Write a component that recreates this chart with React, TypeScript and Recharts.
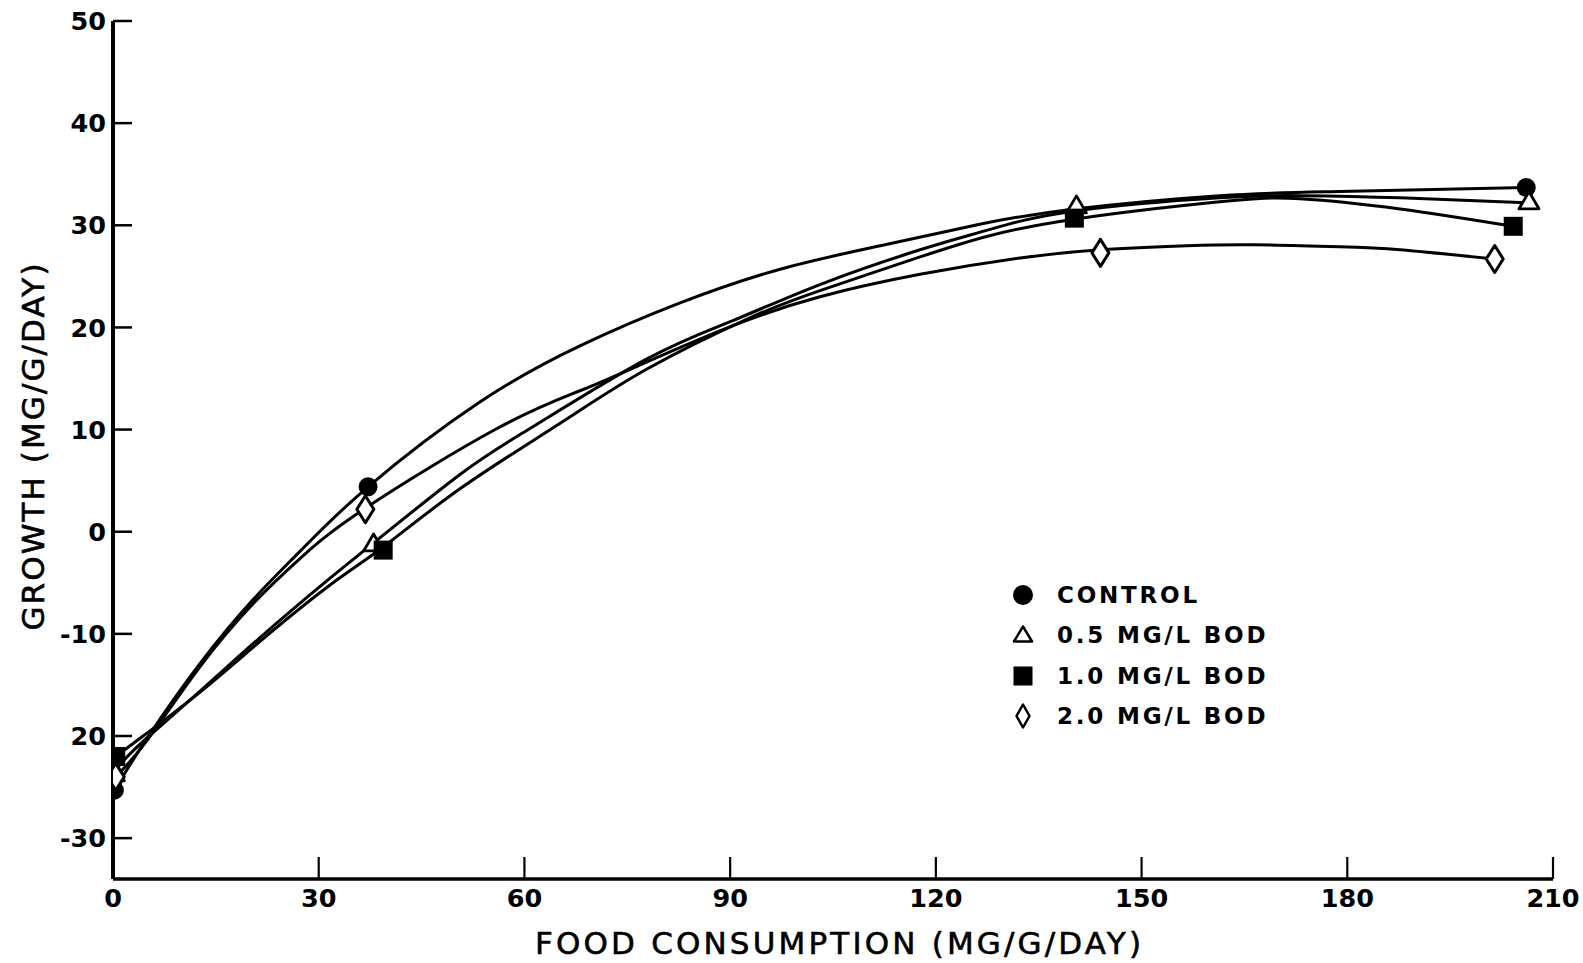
import React from "react";
import { ComposedChart, Line, Scatter, XAxis, YAxis } from "recharts";

const FONT = '"DejaVu Sans", "Liberation Sans", sans-serif';

const xTicks = [0, 30, 60, 90, 120, 150, 180, 210];
const xTickLabels = ["0", "30", "60", "90", "120", "150", "180", "210"];
const yTicks = [-30, -20, -10, 0, 10, 20, 30, 40, 50];
// the original print drops the minus sign on -20
const yTickLabels = ["-30", "20", "-10", "0", "10", "20", "30", "40", "50"];

// measured points [food consumption, growth]
const controlPoints = [[0.2, -25.3], [37.2, 4.4], [206.1, 33.7]];
const bod05Points = [[0.2, -23.7], [38.0, -1.2], [140.5, 31.9], [206.5, 32.3]];
const bod10Points = [[0.4, -22.0], [39.4, -1.8], [140.2, 30.7], [204.2, 29.9]];
const bod20Points = [[0.4, -24.0], [36.8, 2.2], [144.0, 27.3], [201.5, 26.7]];

// fitted curves
const controlCurve = [[0.2, -25.3], [5, -20.2], [12.7, -12.9], [20.5, -6.6], [27.3, -1.9], [37.2, 4.4], [53.5, 12.7], [68.1, 18.2], [82.7, 22.4], [97.3, 25.7], [111.9, 28.0], [126.4, 30.1], [140.3, 31.6], [161.4, 32.9], [178.9, 33.3], [206.1, 33.7]];
const bod05Curve = [[0.2, -23.7], [3, -21.4], [12.7, -15.6], [22.4, -9.8], [32.1, -4.3], [38.0, -1.1], [50.6, 5.6], [60.8, 10.1], [77.8, 16.9], [90.5, 20.7], [103.1, 24.2], [117.7, 27.6], [127.4, 29.5], [140.3, 31.4], [161.4, 32.7], [173.1, 32.9], [187.7, 32.7], [206.5, 32.2]];
const bod10Curve = [[0.4, -22.0], [4, -20.2], [12.7, -15.7], [22.4, -10.2], [32.1, -5.0], [39.4, -1.5], [50.6, 4.2], [64.7, 10.4], [77.8, 15.9], [92.4, 20.8], [103.1, 23.6], [117.7, 26.9], [127.4, 28.9], [140.2, 30.6], [161.4, 32.3], [173.1, 32.6], [187.7, 31.6], [204.2, 29.9]];
const bod20Curve = [[0.4, -24.0], [5, -20.4], [12.7, -13.2], [20.5, -7.0], [27.3, -2.6], [36.8, 2.3], [56.0, 10.1], [68.1, 13.8], [77.8, 16.6], [90.5, 20.2], [103.1, 23.0], [117.7, 25.2], [132.3, 26.8], [144.0, 27.6], [156.6, 28.0], [166.3, 28.1], [178.9, 27.9], [187.7, 27.6], [201.5, 26.7]];

const legendLabels = ["CONTROL", "0.5 MG/L BOD", "1.0 MG/L BOD", "2.0 MG/L BOD"];

const toRows = (pairs: number[][]) => pairs.map(([x, y]) => ({ x, y }));

function CircleMark({ cx, cy }: any) {
  return <circle cx={cx} cy={cy} r={9.5} fill="#000" />;
}

function TriangleMark({ cx, cy }: any) {
  return <polygon points={`${cx},${cy - 10} ${cx - 10},${cy + 7} ${cx + 10},${cy + 7}`} fill="#fff" stroke="#000" strokeWidth={2.8} strokeLinejoin="round" />;
}

function SquareMark({ cx, cy }: any) {
  return <rect x={cx - 9.5} y={cy - 9.5} width={19} height={19} fill="#000" />;
}

function DiamondMark({ cx, cy }: any) {
  return <polygon points={`${cx},${cy - 13.5} ${cx + 8.5},${cy} ${cx},${cy + 13.5} ${cx - 8.5},${cy}`} fill="#fff" stroke="#000" strokeWidth={3} strokeLinejoin="round" />;
}

function YTick({ x, y, payload }: any) {
  const label = yTickLabels[yTicks.indexOf(payload.value)];
  return (
    <g>
      <line x1={x} x2={x + 19} y1={y} y2={y} stroke="#000" strokeWidth={2.5} />
      <text x={x - 7} y={y} dy="0.36em" textAnchor="end" fontFamily={FONT} fontWeight="bold" fontSize={25.5} fill="#000">{label}</text>
    </g>
  );
}

function XTick({ x, y, payload }: any) {
  const label = xTickLabels[xTicks.indexOf(payload.value)];
  return (
    <g>
      {payload.value !== 0 && <line x1={x} x2={x} y1={y} y2={y - 22} stroke="#000" strokeWidth={2.2} />}
      <text x={x} y={y + 28} textAnchor="middle" fontFamily={FONT} fontWeight="bold" fontSize={25.5} fill="#000">{label}</text>
    </g>
  );
}

function LegendMark({ index }: { index: number }) {
  const c = 13;
  return (
    <svg width={26} height={26} style={{ display: "block" }}>
      {index === 0 && <circle cx={c} cy={c} r={10} fill="#000" />}
      {index === 1 && <polygon points={`${c},${c - 8.5} ${c - 9},${c + 6.5} ${c + 9},${c + 6.5}`} fill="#fff" stroke="#000" strokeWidth={2.5} strokeLinejoin="round" />}
      {index === 2 && <rect x={c - 9.5} y={c - 9.5} width={19} height={19} fill="#000" />}
      {index === 3 && <polygon points={`${c},${c - 11.5} ${c + 6.5},${c} ${c},${c + 11.5} ${c - 6.5},${c}`} fill="#fff" stroke="#000" strokeWidth={2.5} strokeLinejoin="round" />}
    </svg>
  );
}

export default function App() {
  return (
    <div style={{ position: "absolute", left: 0, top: 0, width: 1583, height: 963, background: "#fff" }}>
      <ComposedChart width={1583} height={963} margin={{ top: 21, right: 30, bottom: 0, left: 0 }}>
        <XAxis type="number" dataKey="x" domain={[0, 210]} ticks={xTicks} interval={0} height={84} allowDataOverflow axisLine={{ stroke: "#000", strokeWidth: 3.5 }} tickLine={false} tickSize={0} tickMargin={0} tick={<XTick />} />
        <YAxis type="number" dataKey="y" domain={[-34, 50]} ticks={yTicks} interval={0} width={113} allowDataOverflow axisLine={{ stroke: "#000", strokeWidth: 4 }} tickLine={false} tickSize={0} tickMargin={0} tick={<YTick />} />
        <Line data={toRows(controlCurve)} dataKey="y" type="natural" stroke="#000" strokeWidth={3} dot={false} activeDot={false} isAnimationActive={false} />
        <Line data={toRows(bod05Curve)} dataKey="y" type="natural" stroke="#000" strokeWidth={3} dot={false} activeDot={false} isAnimationActive={false} />
        <Line data={toRows(bod10Curve)} dataKey="y" type="natural" stroke="#000" strokeWidth={3} dot={false} activeDot={false} isAnimationActive={false} />
        <Line data={toRows(bod20Curve)} dataKey="y" type="natural" stroke="#000" strokeWidth={3} dot={false} activeDot={false} isAnimationActive={false} />
        <Scatter data={toRows(controlPoints)} dataKey="y" shape={<CircleMark />} isAnimationActive={false} />
        <Scatter data={toRows(bod05Points)} dataKey="y" shape={<TriangleMark />} isAnimationActive={false} />
        <Scatter data={toRows(bod10Points)} dataKey="y" shape={<SquareMark />} isAnimationActive={false} />
        <Scatter data={toRows(bod20Points)} dataKey="y" shape={<DiamondMark />} isAnimationActive={false} />
        <text x={838} y={954} textAnchor="middle" fontFamily={FONT} fontSize={31} textLength={606} lengthAdjust="spacing" fill="#000" stroke="#000" strokeWidth={0.6}>FOOD CONSUMPTION (MG/G/DAY)</text>
        <text x={0} y={0} transform="translate(44 447) rotate(-90)" textAnchor="middle" fontFamily={FONT} fontSize={31} textLength={367} lengthAdjust="spacing" fill="#000" stroke="#000" strokeWidth={0.6}>GROWTH (MG/G/DAY)</text>
      </ComposedChart>
      <div style={{ position: "absolute", left: 1010, top: 575, fontFamily: FONT, fontWeight: "bold", fontSize: 23, letterSpacing: 2.8, color: "#000" }}>
        {legendLabels.map((label, i) => (
          <div key={label} style={{ display: "flex", alignItems: "center", height: 40.3 }}>
            <LegendMark index={i} />
            <span style={{ marginLeft: 21 }}>{label}</span>
          </div>
        ))}
      </div>
    </div>
  );
}
